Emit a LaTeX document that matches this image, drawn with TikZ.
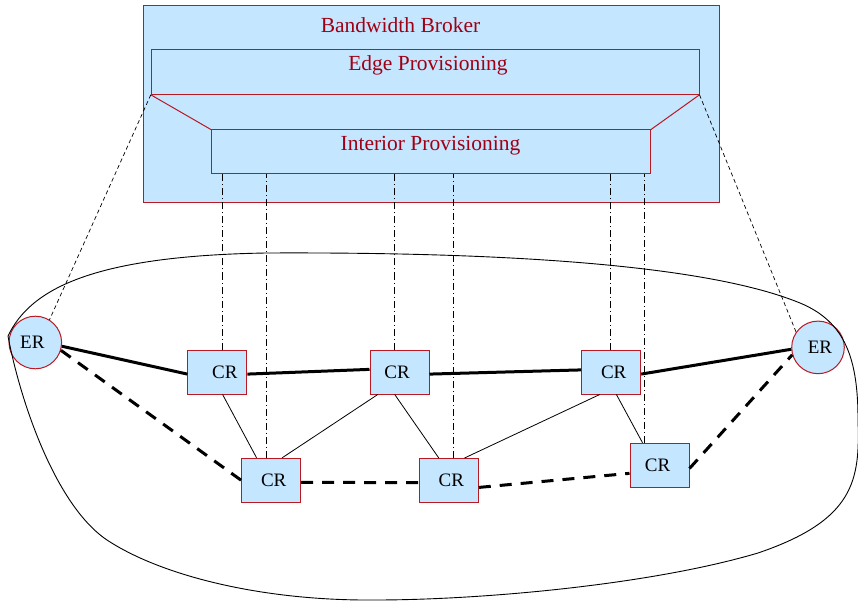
\documentclass[tikz,border=0pt]{standalone}
\usepackage{fontspec}
\setmainfont{Liberation Serif}
\usetikzlibrary{calc}
\definecolor{fillblue}{RGB}{196,230,255}
\definecolor{bred}{RGB}{185,25,35}
\definecolor{tred}{RGB}{160,0,20}
\begin{document}
\begin{tikzpicture}[x=1pt,y=-1pt,
  brokerbox/.style={draw=bred,fill=fillblue,line width=1pt,inner sep=0pt},
  provbox/.style={draw=bred,line width=1pt,inner sep=0pt},
  crbox/.style={draw=bred,fill=fillblue,line width=1pt,inner sep=0pt,minimum width=59pt,minimum height=44pt,font=\fontsize{19}{20}\selectfont},
  erbox/.style={circle,draw=bred,fill=fillblue,line width=1pt,inner sep=0pt,minimum size=52.6pt,font=\fontsize{19}{20}\selectfont},
  title/.style={text=tred,font=\fontsize{21.5}{24}\selectfont,anchor=base,inner sep=0pt},
  core/.style={line width=3pt},
  backup/.style={line width=3pt,dash pattern=on 12pt off 9pt},
  link/.style={line width=0.8pt},
  ctrl/.style={line width=0.7pt,dash pattern=on 7pt off 3pt on 1pt off 3pt},
  edgectrl/.style={line width=0.7pt,dash pattern=on 4pt off 3pt},
  redlink/.style={draw=bred,line width=1pt},
  cloud/.style={line width=0.9pt}
]
\useasboundingbox (0,0) rectangle (858,601);

% Bandwidth broker
\node[brokerbox,minimum width=576pt,minimum height=197.2pt] (broker) at (431,104.1) {};
\node[provbox,minimum width=547.7pt,minimum height=44.3pt] (edge) at (425.15,72.15) {};
\node[provbox,minimum width=439.1pt,minimum height=44pt] (int) at (430.95,152) {};
\draw[redlink] (edge.south west) -- (int.north west);
\draw[redlink] (edge.south east) -- (int.north east);
\node[title] (tbb) at (400.5,32.7) {Bandwidth Broker};
\node[title] (tep) at (428,70.7) {Edge Provisioning};
\node[title] (tip) at (430.5,150.7) {Interior Provisioning};

% routers
\node[erbox] (erl) at (35.3,342.5) {ER\hspace*{6pt}};
\node[erbox] (err) at (818,347.4) {\hspace*{4pt}ER};
\node[crbox] (cr1) at (217.4,372) {\hspace*{15pt}CR};
\node[crbox] (cr2) at (399.5,372) {CR\hspace*{5pt}};
\node[crbox] (cr3) at (611.2,372) {\hspace*{5pt}CR};
\node[crbox] (cr4) at (271.2,480.3) {\hspace*{5pt}CR};
\node[crbox] (cr5) at (448.8,480.5) {\hspace*{5pt}CR};
\node[crbox] (cr6) at (659.5,465.3) {CR\hspace*{4pt}};

% control lines
\draw[ctrl] ($(cr1.north)+(4.6,0)$) coordinate (c1) -- (c1 |- int.south);
\draw[ctrl] ($(cr4.north)+(-4.9,0)$) coordinate (c4) -- (c4 |- int.south);
\draw[ctrl] ($(cr2.north)+(-5,0)$) coordinate (c2) -- (c2 |- int.south);
\draw[ctrl] ($(cr5.north)+(4.2,0)$) coordinate (c5) -- (c5 |- int.south);
\draw[ctrl] ($(cr3.north)+(-1.2,0)$) coordinate (c3) -- (c3 |- int.south);
\draw[ctrl] ($(cr6.north)+(-15,0)$) coordinate (c6) -- (c6 |- int.south);
\draw[edgectrl] (edge.south west) -- (erl.58.7);
\draw[edgectrl] (edge.south east) -- (err.145.4);

% core path
\draw[core] (erl.-8) -- (cr1.184.5);
\draw[core] (cr1.-4) -- (cr2.175);
\draw[core] (cr2.-4) -- (cr3.176);
\draw[core] (cr3.-4) -- (err.184);
% backup path
\draw[backup] (erl.-17) -- (cr4.west);
\draw[backup] (cr4.-4.6) -- (cr5.184.3);
\draw[backup] (cr5.-13) -- (cr6.195);
\draw[backup] (cr6.-6) -- (err.196.5);
% other links
\draw[link] (cr1.-77.7) -- (cr4.123.4);
\draw[link] (cr2.226) -- (cr4.64.5);
\draw[link] (cr2.258.4) -- (cr5.114);
\draw[link] (cr3.243) -- (cr5.55.5);
\draw[link] (cr3.-77.7) -- (cr6.127.4);

% domain boundary
\draw[cloud] (8,336) .. controls (30,290) and (90,256) .. (266,253)
  .. controls (480,252) and (700,262) .. (800,303)
  .. controls (846,322) and (858,360) .. (858,420)
  .. controls (860,480) and (855,520) .. (758,553)
  .. controls (650,585) and (480,600) .. (375,600)
  .. controls (260,601) and (160,575) .. (107,540)
  .. controls (55,505) and (20,400) .. cycle;
\end{tikzpicture}
\end{document}
